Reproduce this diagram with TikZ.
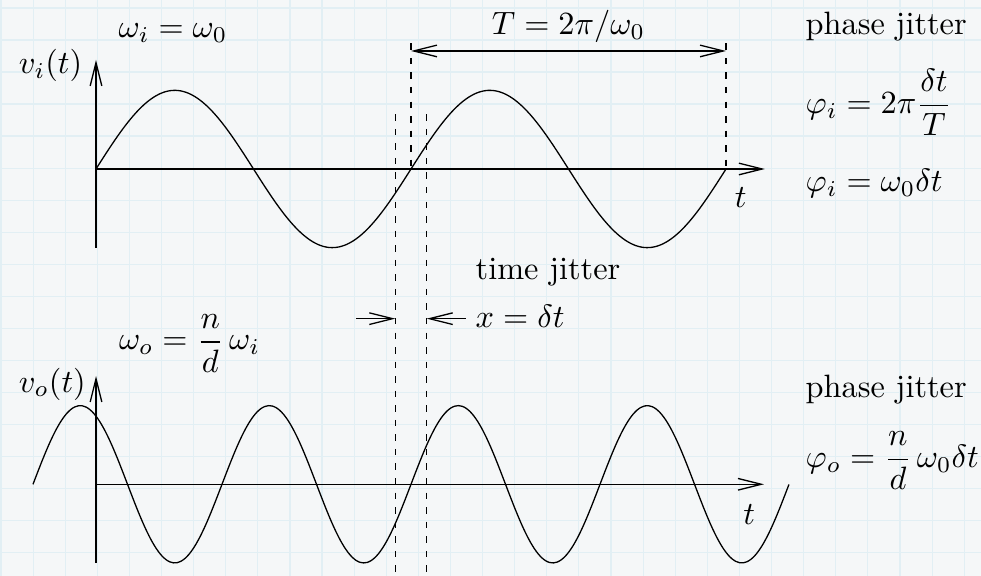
\documentclass[tikz,border=0pt]{standalone}
\usepackage{xcolor}
\usepackage{tikz}
\usetikzlibrary{positioning, arrows.meta}

\definecolor{paperbg}{RGB}{245,247,248}
\definecolor{paperline}{RGB}{226,239,244}

\tikzset{
	lbl/.style={anchor=base west, inner sep=0pt},
	jitline/.style={dash pattern=on 2pt off 2.5pt},
	>={Straight Barb[length=7.2pt,width=3.6pt]}
}

\begin{document}
\begin{tikzpicture}[scale=1]
			\fill[paperbg] (-1.0435,-4.4239) rectangle (9.6196,1.8370);
			\useasboundingbox (-1.0435,-4.4239) rectangle (9.6196,1.8370);
			\foreach \i in {0,...,30}
				\draw[paperline, line width=0.35pt] ({-1.033+0.349*\i},-4.4239) -- ({-1.033+0.349*\i},1.837);
			\foreach \j in {0,...,17}
				\draw[paperline, line width=0.35pt] (-1.0435,{1.75-0.348*\j}) -- (9.6196,{1.75-0.348*\j});
			
			% input signal
			\coordinate (oi) at (0,0);
			\coordinate (yi) at (0,1.185);
			\coordinate (xi) at (7.27,0);
			\draw[->] (0,-0.855) -- (yi);
			\draw[->] (oi) -- (xi);
			\draw plot[domain=0:6.848, samples=120, smooth] (\x,{0.855*sin(\x*360/3.424)});
			
			% output signal
			\coordinate (oo) at (0,-3.427);
			\coordinate (yo) at (0,-2.25);
			\coordinate (xo) at (7.26,-3.427);
			\draw[->] (0,-4.282) -- (yo);
			\draw[->] (oo) -- (xo);
			\draw plot[domain=-0.685:7.533, samples=200, smooth] (\x,{-3.427+0.855*sin((\x-3.424)*360/2.0544)});
			
			% period
			\coordinate (pa) at (3.424,1.283);
			\coordinate (pb) at (6.848,1.283);
			\draw[jitline] (3.424,1.366) -- (3.424,0);
			\draw[jitline] (6.848,1.366) -- (6.848,0);
			\draw[<->] (pa) -- (pb);
			
			% jitter
			\coordinate (ja) at (3.253,-1.627);
			\coordinate (jb) at (3.595,-1.627);
			\draw[jitline] (3.253,0.595) -- (3.253,-4.43);
			\draw[jitline] (3.595,0.595) -- (3.595,-4.43);
			\draw[->] (2.826,-1.627) -- (ja);
			\draw[->] (4.02,-1.627) -- (jb);
			
			\node[lbl] (wi) at (0.239,1.427) {$\omega_i=\omega_0$};
			\node[lbl] (vi) at (-0.845,1.033) {$v_i(t)$};
			\node[lbl, anchor=base] (per) at (5.136,1.464) {$T=2\pi/\omega_0$};
			\node[lbl] (pji) at (7.707,1.457) {phase jitter};
			\node[lbl] (phia) at (7.707,0.603) {$\displaystyle\varphi_i=2\pi\frac{\delta t}{T}$};
			\node[lbl] (phib) at (7.707,-0.242) {$\varphi_i=\omega_0\delta t$};
			\node[lbl] (tin) at (6.938,-0.424) {$t$};
			\node[lbl] (tj) at (4.12,-1.199) {time jitter};
			\node[lbl] (dt) at (4.12,-1.721) {$x=\delta t$};
			\node[lbl] (wo) at (0.243,-1.967) {$\displaystyle\omega_o=\frac{n}{d}\,\omega_i$};
			\node[lbl] (vo) at (-0.845,-2.424) {$v_o(t)$};
			\node[lbl] (tout) at (7.03,-3.862) {$t$};
			\node[lbl] (pjo) at (7.707,-2.486) {phase jitter};
			\node[lbl] (phio) at (7.707,-3.243) {$\displaystyle\varphi_o=\frac{n}{d}\,\omega_0\delta t$};
			\end{tikzpicture}
\end{document}
